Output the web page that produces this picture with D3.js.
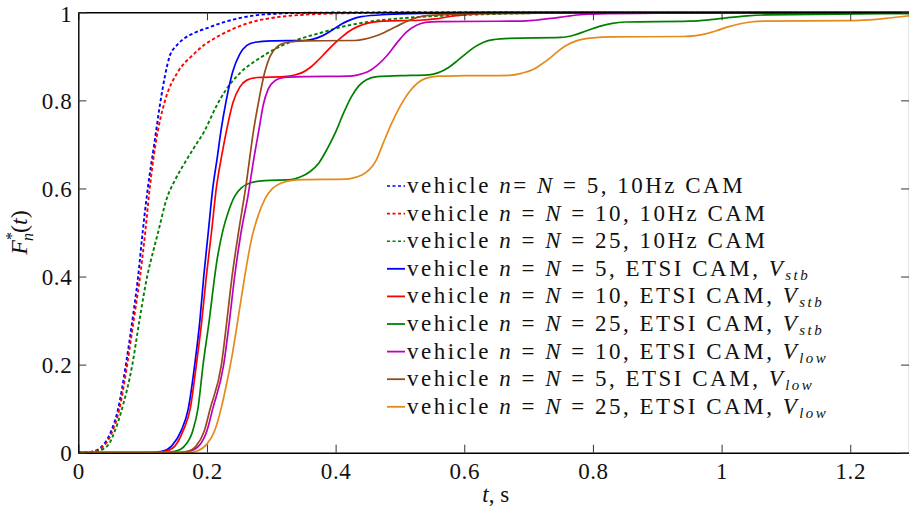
<!DOCTYPE html>
<html>
<head>
<meta charset="utf-8">
<script src="https://cdn.jsdelivr.net/npm/d3@7"></script>
<style>
  html, body { margin: 0; padding: 0; background: #fff; }
  svg { display: block; }
</style>
</head>
<body>
<svg id="chart" width="909" height="507"></svg>
<script>
// ---------- data (t in seconds, F*_n(t)) ----------
const xTickValues = [0, 0.2, 0.4, 0.6, 0.8, 1, 1.2];
const xTickLabels = ["0", "0.2", "0.4", "0.6", "0.8", "1", "1.2"];
const yTickValues = [0, 0.2, 0.4, 0.6, 0.8, 1];
const yTickLabels = ["0", "0.2", "0.4", "0.6", "0.8", "1"];

const camN5 = [[0,0],[0.02,0.002],[0.035,0.012],[0.05,0.045],[0.062,0.1],[0.074,0.2],[0.084,0.3],[0.093,0.4],[0.1,0.5],[0.108,0.6],[0.118,0.7],[0.128,0.8],[0.142,0.9],[0.153,0.925],[0.165,0.941],[0.18,0.953],[0.2,0.964],[0.225,0.977],[0.248,0.986],[0.275,0.993],[0.31,0.997],[0.36,0.999],[0.5,1],[1.2915,1]];
const camN10 = [[0,0],[0.02,0.002],[0.037,0.012],[0.052,0.045],[0.064,0.1],[0.076,0.2],[0.086,0.3],[0.096,0.4],[0.104,0.5],[0.111,0.6],[0.12,0.7],[0.135,0.8],[0.155,0.865],[0.178,0.903],[0.195,0.925],[0.212,0.941],[0.243,0.964],[0.27,0.978],[0.3,0.987],[0.345,0.994],[0.42,0.998],[0.6,1],[1.2915,1]];
const camN25 = [[0,0],[0.025,0.002],[0.045,0.015],[0.057,0.05],[0.068,0.1],[0.084,0.2],[0.095,0.3],[0.107,0.4],[0.116,0.455],[0.124,0.5],[0.137,0.575],[0.15,0.618],[0.165,0.657],[0.181,0.695],[0.196,0.73],[0.214,0.785],[0.23,0.825],[0.252,0.863],[0.282,0.896],[0.313,0.922],[0.345,0.94],[0.376,0.953],[0.407,0.966],[0.454,0.979],[0.516,0.988],[0.6,0.994],[0.7,0.998],[0.8,1],[1.2915,1]];
const etsiStbN5 = [[0,0],[0.11,0],[0.13,0.003],[0.145,0.015],[0.16,0.05],[0.171,0.1],[0.181,0.2],[0.189,0.3],[0.195,0.4],[0.202,0.5],[0.209,0.6],[0.216,0.67],[0.222,0.733],[0.23,0.8],[0.24,0.865],[0.251,0.905],[0.262,0.925],[0.275,0.932],[0.3,0.935],[0.35,0.936],[0.365,0.939],[0.38,0.947],[0.395,0.96],[0.41,0.974],[0.425,0.984],[0.44,0.99],[0.48,0.995],[0.55,0.998],[0.65,1],[1.2915,1]];
const etsiStbN10 = [[0,0],[0.115,0],[0.135,0.003],[0.15,0.015],[0.163,0.05],[0.174,0.1],[0.1835,0.2],[0.192,0.3],[0.199,0.4],[0.207,0.5],[0.2145,0.6],[0.223,0.675],[0.2316,0.74],[0.2405,0.795],[0.251,0.83],[0.262,0.846],[0.278,0.852],[0.32,0.854],[0.335,0.857],[0.348,0.863],[0.36,0.874],[0.372,0.89],[0.384,0.908],[0.396,0.926],[0.408,0.942],[0.42,0.956],[0.435,0.968],[0.452,0.976],[0.475,0.98],[0.53,0.982],[0.555,0.985],[0.58,0.991],[0.61,0.996],[0.66,0.999],[0.8,1],[1.2915,1]];
const etsiStbN25 = [[0,0],[0.13,0],[0.15,0.003],[0.165,0.015],[0.178,0.05],[0.186,0.1],[0.194,0.2],[0.2035,0.3],[0.212,0.4],[0.2165,0.445],[0.225,0.506],[0.233,0.546],[0.243,0.582],[0.254,0.602],[0.268,0.613],[0.29,0.618],[0.33,0.62],[0.345,0.626],[0.36,0.638],[0.374,0.658],[0.387,0.69],[0.4,0.728],[0.412,0.77],[0.424,0.807],[0.436,0.833],[0.448,0.847],[0.465,0.854],[0.5,0.856],[0.545,0.858],[0.56,0.863],[0.575,0.874],[0.59,0.891],[0.604,0.908],[0.617,0.922],[0.63,0.932],[0.645,0.938],[0.67,0.941],[0.75,0.943],[0.77,0.948],[0.79,0.958],[0.81,0.968],[0.83,0.975],[0.85,0.978],[0.95,0.98],[0.98,0.983],[1.01,0.988],[1.04,0.992],[1.07,0.994],[1.2915,0.997]];
const etsiLowN10 = [[0,0],[0.15,0],[0.172,0.003],[0.187,0.015],[0.2,0.05],[0.209,0.1],[0.226,0.2],[0.235,0.3],[0.243,0.4],[0.253,0.5],[0.264,0.585],[0.272,0.66],[0.281,0.735],[0.2876,0.79],[0.295,0.825],[0.306,0.845],[0.32,0.852],[0.35,0.854],[0.42,0.855],[0.435,0.858],[0.45,0.865],[0.465,0.88],[0.48,0.902],[0.495,0.93],[0.51,0.955],[0.525,0.97],[0.54,0.977],[0.56,0.979],[0.69,0.98],[0.71,0.982],[0.735,0.986],[0.76,0.991],[0.785,0.995],[0.82,0.997],[0.9,0.998],[1.2915,0.999]];
const etsiLowN5 = [[0,0],[0.15,0],[0.17,0.003],[0.183,0.015],[0.196,0.05],[0.205,0.1],[0.2225,0.2],[0.231,0.3],[0.239,0.4],[0.249,0.5],[0.26,0.6],[0.2726,0.733],[0.28,0.795],[0.29,0.865],[0.298,0.9],[0.31,0.923],[0.325,0.932],[0.35,0.935],[0.43,0.936],[0.445,0.939],[0.46,0.945],[0.474,0.953],[0.488,0.963],[0.5,0.972],[0.513,0.981],[0.526,0.988],[0.545,0.993],[0.6,0.996],[0.8,0.999],[1,1],[1.2915,1]];
const etsiLowN25 = [[0,0],[0.17,0],[0.185,0.004],[0.2,0.02],[0.212,0.05],[0.222,0.1],[0.231,0.16],[0.239,0.22],[0.25,0.32],[0.261,0.42],[0.27,0.49],[0.28,0.54],[0.29,0.576],[0.302,0.6],[0.315,0.612],[0.33,0.618],[0.35,0.62],[0.415,0.621],[0.428,0.624],[0.44,0.63],[0.452,0.642],[0.463,0.664],[0.474,0.703],[0.487,0.748],[0.5,0.786],[0.516,0.822],[0.528,0.84],[0.54,0.85],[0.56,0.855],[0.6,0.856],[0.67,0.857],[0.69,0.862],[0.707,0.87],[0.72,0.882],[0.733,0.896],[0.746,0.912],[0.759,0.925],[0.772,0.934],[0.785,0.939],[0.8,0.942],[0.83,0.944],[0.94,0.945],[0.96,0.947],[0.975,0.951],[0.992,0.958],[1.01,0.967],[1.029,0.974],[1.045,0.978],[1.065,0.98],[1.2,0.981],[1.23,0.983],[1.26,0.987],[1.2915,0.992]];

// legend / series descriptors (in legend order)
const seriesData  = [camN5, camN10, camN25, etsiStbN5, etsiStbN10, etsiStbN25, etsiLowN10, etsiLowN5, etsiLowN25];
const seriesN     = ["5", "10", "25", "5", "10", "25", "10", "5", "25"];
const seriesKind  = ["10Hz CAM", "10Hz CAM", "10Hz CAM", "ETSI CAM,", "ETSI CAM,", "ETSI CAM,", "ETSI CAM,", "ETSI CAM,", "ETSI CAM,"];
const seriesSub   = ["", "", "", "stb", "stb", "stb", "low", "low", "low"];
const seriesColor = ["#0000ff", "#ff0000", "#008000", "#0000ff", "#ff0000", "#008000", "#bf00bf", "#964b1a", "#e58a1c"];
const seriesDash  = [true, true, true, false, false, false, false, false, false];

// ---------- font selection ----------
const svg = d3.select("#chart");
function hasFont(name) {
  const t = svg.append("text").attr("font-size", 40).style("font-family", "monospace").text("vehicle Hz CAM 0.123 ETSI");
  const w0 = t.node().getComputedTextLength();
  t.style("font-family", `"${name}", monospace`);
  const w1 = t.node().getComputedTextLength();
  t.remove();
  return Math.abs(w1 - w0) > 0.5;
}
const fontCandidates = ["Liberation Serif", "DejaVu Serif", "Noto Serif", "Times New Roman"];
const fontName = fontCandidates.find(hasFont);
const FONT = fontName ? `"${fontName}", serif` : "serif";

// ---------- layout ----------
const X0 = 78.3, X1 = 909.1, Y0 = 452.7, Y1 = 12.3;
const x = d3.scaleLinear().domain([0, 1.2915]).range([X0, X1]);
const y = d3.scaleLinear().domain([0, 1]).range([Y0, Y1]);

const FS = 23;   // legend font size
const TFS = 23;  // tick / axis label font size

// fit letter-spacing so that legend row 1 spans the reference width
function rowWidth(ls) {
  const t = svg.append("text").style("font-family", FONT).attr("font-size", FS).attr("letter-spacing", ls);
  t.append("tspan").text("vehicle ");
  t.append("tspan").attr("font-style", "italic").text("n");
  t.append("tspan").text("= ");
  t.append("tspan").attr("font-style", "italic").text("N");
  t.append("tspan").text(" = 5, 10Hz CAM");
  const w = t.node().getComputedTextLength();
  t.remove();
  return w;
}
const nChars = "vehicle n= N = 5, 10Hz CAM".length;
const LS = Math.max(0, Math.min(2.5, (382 - rowWidth(0)) / nChars));

// curves
const line = d3.line().x(d => x(d[0])).y(d => y(d[1])).curve(d3.curveMonotoneX);
const gCurves = svg.append("g");
seriesData.forEach((data, i) => {
  gCurves.append("path")
    .attr("d", line(data))
    .attr("fill", "none")
    .attr("stroke", seriesColor[i])
    .attr("stroke-width", seriesDash[i] ? 1.9 : 1.7)
    .attr("stroke-dasharray", seriesDash[i] ? "3.4,2.4" : null)
    .attr("stroke-linejoin", "round");
});

// axes
const fmtX = d => xTickLabels[xTickValues.indexOf(d)];
const fmtY = d => yTickLabels[yTickValues.indexOf(d)];
const tickLen = 8;

const axB = svg.append("g").attr("transform", `translate(0,${Y0})`)
  .call(d3.axisBottom(x).tickValues(xTickValues).tickFormat(fmtX).tickSizeInner(-tickLen).tickSizeOuter(0).tickPadding(10));
const axT = svg.append("g").attr("transform", `translate(0,${Y1})`)
  .call(d3.axisTop(x).tickValues(xTickValues).tickFormat("").tickSizeInner(-tickLen).tickSizeOuter(0));
const axL = svg.append("g").attr("transform", `translate(${X0},0)`)
  .call(d3.axisLeft(y).tickValues(yTickValues).tickFormat(fmtY).tickSizeInner(-tickLen).tickSizeOuter(0).tickPadding(6));
const axR = svg.append("g").attr("transform", `translate(${X1},0)`)
  .call(d3.axisRight(y).tickValues(yTickValues).tickFormat("").tickSizeInner(-tickLen).tickSizeOuter(0));

[axB, axT, axL, axR].forEach(g => {
  g.select(".domain").attr("stroke", "#000").attr("stroke-width", 1.4);
  g.selectAll(".tick line").attr("stroke", "#333").attr("stroke-width", 1);
  g.selectAll(".tick text").style("font-family", FONT).attr("font-size", TFS).attr("fill", "#111").attr("letter-spacing", 0.6);
});
axB.selectAll(".tick text").attr("dy", "0.71em");
axL.selectAll(".tick text").attr("dy", d => d === 1 ? "0.42em" : "0.36em");

// axis labels
const xl = svg.append("text").attr("x", (X0 + X1) / 2 + 2).attr("y", 502).attr("text-anchor", "middle")
  .style("font-family", FONT).attr("font-size", TFS).attr("fill", "#111");
xl.append("tspan").attr("font-style", "italic").text("t");
xl.append("tspan").text(", s");

const yl = svg.append("text").attr("transform", `translate(27,${(Y0 + Y1) / 2}) rotate(-90)`).attr("text-anchor", "middle")
  .style("font-family", FONT).attr("font-size", TFS + 1).attr("fill", "#111");
yl.append("tspan").attr("font-style", "italic").text("F");
yl.append("tspan").attr("font-size", TFS * 0.7).attr("dy", -10).text("*");
yl.append("tspan").attr("font-size", TFS * 0.7).attr("font-style", "italic").attr("dx", -9).attr("dy", 16).text("n");
yl.append("tspan").attr("dy", -6).text("(");
yl.append("tspan").attr("font-style", "italic").text("t");
yl.append("tspan").text(")");

// legend
const legX = 387, legTextX = 407, legY0 = 193, legDY = 27.6;
const gLeg = svg.append("g");
seriesData.forEach((_, i) => {
  const by = legY0 + i * legDY;
  gLeg.append("line")
    .attr("x1", legX).attr("x2", legX + 18)
    .attr("y1", by - 7).attr("y2", by - 7)
    .attr("stroke", seriesColor[i])
    .attr("stroke-width", seriesDash[i] ? 1.6 : 1.8)
    .attr("stroke-dasharray", seriesDash[i] ? "3,2.5" : null);
  const t = gLeg.append("text").attr("x", legTextX).attr("y", by)
    .style("font-family", FONT).attr("font-size", FS).attr("letter-spacing", LS).attr("fill", "#111");
  t.append("tspan").text("vehicle ");
  t.append("tspan").attr("font-style", "italic").text("n");
  t.append("tspan").text(i === 0 ? "= " : " = ");
  t.append("tspan").attr("font-style", "italic").text("N");
  t.append("tspan").text(" = " + seriesN[i] + ", " + seriesKind[i] + (seriesSub[i] ? " " : ""));
  if (seriesSub[i]) {
    t.append("tspan").attr("font-style", "italic").text("V");
    t.append("tspan").attr("font-style", "italic").attr("font-size", FS * 0.65).attr("dy", 4).text(seriesSub[i]);
  }
});
</script>
</body>
</html>
